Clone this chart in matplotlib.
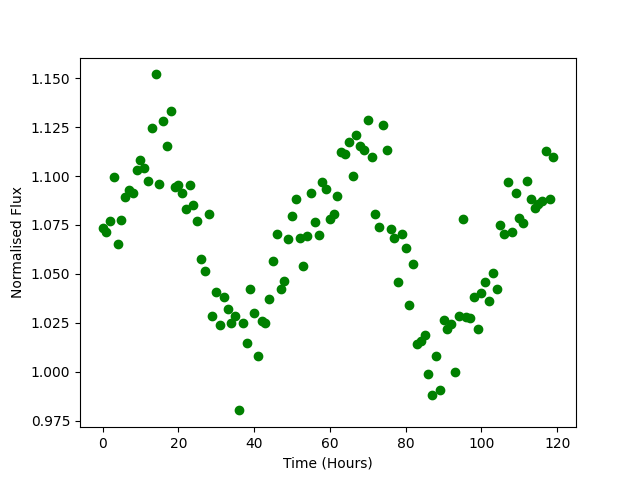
import matplotlib
matplotlib.use('Agg')
import matplotlib.pyplot as plt
import numpy as np

hours = np.arange(120)
flux = [
    1.0736, 1.0712, 1.0770, 1.0995, 1.0652, 1.0775, 1.0891, 1.0929, 1.0912, 1.1031,
    1.1082, 1.1040, 1.0973, 1.1244, 1.1520, 1.0958, 1.1282, 1.1152, 1.1333, 1.0942,
    1.0953, 1.0912, 1.0830, 1.0954, 1.0852, 1.0768, 1.0574, 1.0514, 1.0806, 1.0283,
    1.0408, 1.0241, 1.0384, 1.0323, 1.0251, 1.0283, 0.9802, 1.0251, 1.0149, 1.0425,
    1.0302, 1.0082, 1.0258, 1.0251, 1.0374, 1.0565, 1.0703, 1.0425, 1.0463, 1.0676,
    1.0795, 1.0881, 1.0681, 1.0539, 1.0693, 1.0913, 1.0763, 1.0698, 1.0968, 1.0934,
    1.0783, 1.0804, 1.0898, 1.1122, 1.1111, 1.1173, 1.1000, 1.1210, 1.1154, 1.1133,
    1.1285, 1.1099, 1.0804, 1.0739, 1.1260, 1.1133, 1.0732, 1.0681, 1.0456, 1.0703,
    1.0630, 1.0343, 1.0550, 1.0144, 1.0157, 1.0190, 0.9986, 0.9879, 1.0082, 0.9905,
    1.0266, 1.0220, 1.0246, 1.0000, 1.0285, 1.0779, 1.0278, 1.0272, 1.0384, 1.0220,
    1.0401, 1.0457, 1.0360, 1.0502, 1.0425, 1.0748, 1.0702, 1.0970, 1.0712, 1.0912,
    1.0787, 1.0758, 1.0975, 1.0881, 1.0835, 1.0857, 1.0874, 1.1128, 1.0881, 1.1096,
]

fig, ax = plt.subplots(figsize=(6.4, 4.8), dpi=100)
ax.scatter(hours, flux, color='green')
ax.set_xlabel('Time (Hours)')
ax.set_ylabel('Normalised Flux')

plt.savefig('out.png', dpi=100)
